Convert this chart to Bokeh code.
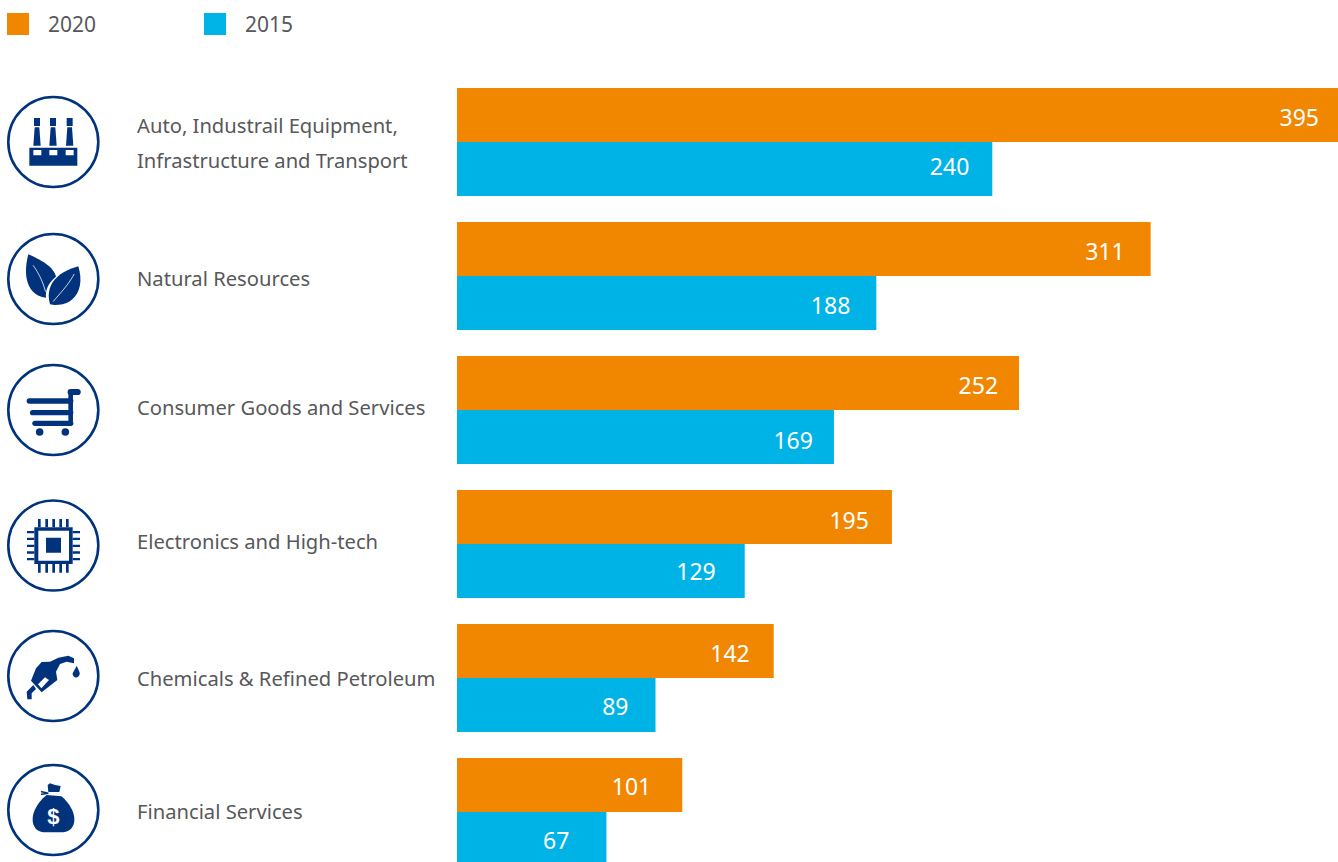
from bokeh.core.properties import value
from bokeh.embed import file_html
from bokeh.models import ColumnDataSource, Range1d
from bokeh.plotting import figure
from bokeh.resources import INLINE

# Chart data
sectors = [
    ["Auto, Industrail Equipment,", "Infrastructure and Transport"],
    ["Natural Resources"],
    ["Consumer Goods and Services"],
    ["Electronics and High-tech"],
    ["Chemicals & Refined Petroleum"],
    ["Financial Services"],
]
values_2020 = [395, 311, 252, 195, 142, 101]
values_2015 = [240, 188, 169, 129, 89, 67]
legend_labels = ["2020", "2015"]

# Styling
ORANGE = "#f18700"
BLUE = "#00b3e6"
NAVY = "#00337c"
GREY = "#58585a"
FONT = "Noto Sans"

W, H = 1338, 862
ROW = 134.0           # pixels between sector rows
BAR = 54.0 / ROW      # bar thickness in row units
FIRST = 142.0         # pixel line between the first pair of bars
PX_PER_UNIT = 881.0 / 395.0
LEFT = 457.0
NUDGE = 0.5           # half-pixel shift so bar edges land on whole pixels

p = figure(
    width=W, height=H, output_backend="svg", toolbar_location=None,
    x_range=Range1d(-(LEFT - NUDGE) / PX_PER_UNIT, (W - LEFT + NUDGE) / PX_PER_UNIT),
    y_range=Range1d((H - FIRST + NUDGE) / ROW, -(FIRST - NUDGE) / ROW),
    min_border=0, outline_line_color=None,
)
p.extra_x_ranges["px"] = Range1d(NUDGE, W + NUDGE)
p.extra_y_ranges["px"] = Range1d(H + NUDGE, NUDGE)
p.axis.visible = False
p.grid.visible = False
p.background_fill_color = "white"
p.border_fill_color = "white"

rows = list(range(len(sectors)))
src_2020 = ColumnDataSource(dict(y=[r - BAR / 2 for r in rows], v=values_2020, t=[str(v) for v in values_2020]))
src_2015 = ColumnDataSource(dict(y=[r + BAR / 2 for r in rows], v=values_2015, t=[str(v) for v in values_2015]))
p.hbar(y="y", left=0, right="v", height=BAR, source=src_2020, fill_color=ORANGE, line_color=None)
p.hbar(y="y", left=0, right="v", height=BAR, source=src_2015, fill_color=BLUE, line_color=None)

# Value labels sit inside the bar ends
src_2020.data["dx"] = [-19, -26, -21, -23, -24, -31]
src_2020.data["dy"] = [2, 2, 2, 3, 2, 1]
src_2015.data["dx"] = [-23, -26, -21, -29, -27, -37]
src_2015.data["dy"] = [-3, 2, 3, 0, 1, 1]
for src in (src_2020, src_2015):
    p.text(x="v", y="y", text="t", x_offset="dx", y_offset="dy", source=src, text_color="white",
           text_font=value(FONT), text_font_size="23px", text_align="right", text_baseline="middle")


def px_patch(xs, ys, color=NAVY):
    p.patch(xs, ys, fill_color=color, line_color=None, x_range_name="px", y_range_name="px")


def px_line(xs, ys, color=NAVY, width=1.0, cap="round"):
    p.line(xs, ys, line_color=color, line_width=width, line_cap=cap, x_range_name="px", y_range_name="px")


def px_rect(x0, y0, x1, y1, color=NAVY):
    p.quad(left=x0, right=x1, top=y0, bottom=y1, fill_color=color, line_color=None,
           x_range_name="px", y_range_name="px")


def cubic(a, b, c, d, n=14):
    """Sampled cubic Bezier, returned without its last point."""
    out = []
    for i in range(n):
        t = i / n
        u = 1 - t
        out.append((u**3 * a[0] + 3 * u * u * t * b[0] + 3 * u * t * t * c[0] + t**3 * d[0],
                    u**3 * a[1] + 3 * u * u * t * b[1] + 3 * u * t * t * c[1] + t**3 * d[1]))
    return out


def path(oy, pts):
    return [x / 3 for x, _ in pts], [oy + y / 3 for _, y in pts]


# Legend
for x0, color, label in zip((7, 204), (ORANGE, BLUE), legend_labels):
    px_rect(x0, 13, x0 + 22, 35, color)
    p.text(x=[x0 + 41], y=[24], text=[label], text_color=GREY, text_font=value(FONT), text_font_size="21px",
           text_baseline="middle", x_range_name="px", y_range_name="px")

# Sector names
name_y = [[125, 160], [278], [407], [541], [678], [811]]
for lines, ys in zip(sectors, name_y):
    p.text(x=[137] * len(lines), y=ys, text=lines, text_color=GREY, text_font=value(FONT), text_font_size="20.2px",
           text_baseline="middle", x_range_name="px", y_range_name="px")

# Icon rings
ring_y = [142, 279, 410, 545.5, 676, 810]
p.circle(x=[53.3] * 6, y=ring_y, radius=45, fill_color="white", line_color=NAVY, line_width=2.6,
         x_range_name="px", y_range_name="px")

# Factory
for x0 in (102, 150, 200):
    px_rect(x0 / 3, 118, (x0 + 18) / 3, 126)
    px_patch([(x0 + 2) / 3, (x0 + 16) / 3, (x0 + 20) / 3, (x0 - 2) / 3], [127.3, 127.3, 145.7, 145.7])
px_rect(88 / 3, 147.7, 232 / 3, 165.7)
for x0 in (100, 148, 197):
    px_rect(x0 / 3, 150, (x0 + 24) / 3, 155.3, "white")

# Leaves
left_leaf = (cubic((85, 88), (125, 105), (160, 125), (168, 155)) + cubic((168, 155), (150, 170), (135, 190), (138, 218))
             + cubic((138, 218), (80, 212), (68, 150), (85, 88)))
right_leaf = (cubic((235, 124), (180, 138), (132, 175), (150, 238)) + cubic((150, 238), (215, 250), (258, 200), (235, 124)))
px_patch(*path(225, left_leaf))
px_patch(*path(225, right_leaf))
px_line(*path(225, cubic((100, 122), (120, 150), (130, 175), (138, 205))), color="white", width=0.8)
px_line(*path(225, cubic((222, 148), (205, 180), (180, 205), (155, 235))), color="white", width=0.8)

# Shopping cart
px_line(*path(225, [(212, 595), (212, 502)]), width=4.6)
px_line(*path(225, [(212, 501), (233, 501)]), width=6.2)
for x0, y0 in ((88, 528), (98, 563), (105, 595)):
    px_line(*path(225, [(x0, y0), (212, y0)]), width=5.4)
p.circle(x=[119 / 3, 196 / 3], y=[225 + 621 / 3] * 2, radius=3.8, fill_color=NAVY, line_color=None,
         x_range_name="px", y_range_name="px")

# Chip
px_rect(103 / 3, 490 + 112 / 3, 218 / 3, 490 + 222 / 3)
px_rect(115 / 3, 490 + 122 / 3, 207 / 3, 490 + 212 / 3, "white")
px_rect(138 / 3, 490 + 143 / 3, 183 / 3, 490 + 188 / 3)
for x0 in (114, 136, 157, 178, 198):
    px_rect(x0 / 3, 490 + 87 / 3, (x0 + 8) / 3, 490 + 112 / 3)
    px_rect(x0 / 3, 490 + 222 / 3, (x0 + 8) / 3, 490 + 248 / 3)
for y0 in (123, 143, 164, 184, 204):
    px_rect(81 / 3, 490 + y0 / 3, 103 / 3, 490 + (y0 + 7) / 3)
    px_rect(218 / 3, 490 + y0 / 3, 240 / 3, 490 + (y0 + 7) / 3)

# Fuel nozzle
px_patch(*path(490, [(108, 535), (125, 516), (150, 515), (175, 503), (205, 497), (222, 505), (222, 520), (200, 515),
                     (180, 522), (168, 545), (172, 570), (125, 607), (93, 572)]))
px_patch(*path(490, [(114, 583), (135, 562), (147, 570), (124, 595)]), "white")
px_patch(*path(490, [(82, 628), (80, 605), (100, 585), (108, 597), (95, 610), (95, 628)]))
px_patch(*path(490, cubic((230, 527), (222, 545), (215, 550), (219, 556)) + cubic((219, 556), (225, 566), (235, 564), (239, 553))
                + cubic((239, 553), (240, 545), (235, 540), (230, 527))))

# Money bag
bag = (cubic((140, 195), (120, 210), (98, 240), (98, 268)) + cubic((98, 268), (98, 295), (115, 307), (135, 307))
       + [(185, 307)] + cubic((185, 307), (205, 307), (223, 295), (223, 268)) + cubic((223, 268), (223, 240), (200, 210), (180, 195)))
px_patch(*path(730, bag))
px_patch(*path(730, [(143, 165), (150, 160), (165, 165), (182, 168), (178, 186), (145, 186)]))
px_line(*path(730, [(125, 185), (145, 190), (125, 193)]), width=1.6)
p.text(x=[160 / 3], y=[730 + 260 / 3], text=["$"], text_color="white", text_font=value("Liberation Sans"),
       text_font_style="bold", text_font_size="22px", text_align="center", text_baseline="middle",
       x_range_name="px", y_range_name="px")

open("out.html", "w").write(file_html(p, INLINE))
